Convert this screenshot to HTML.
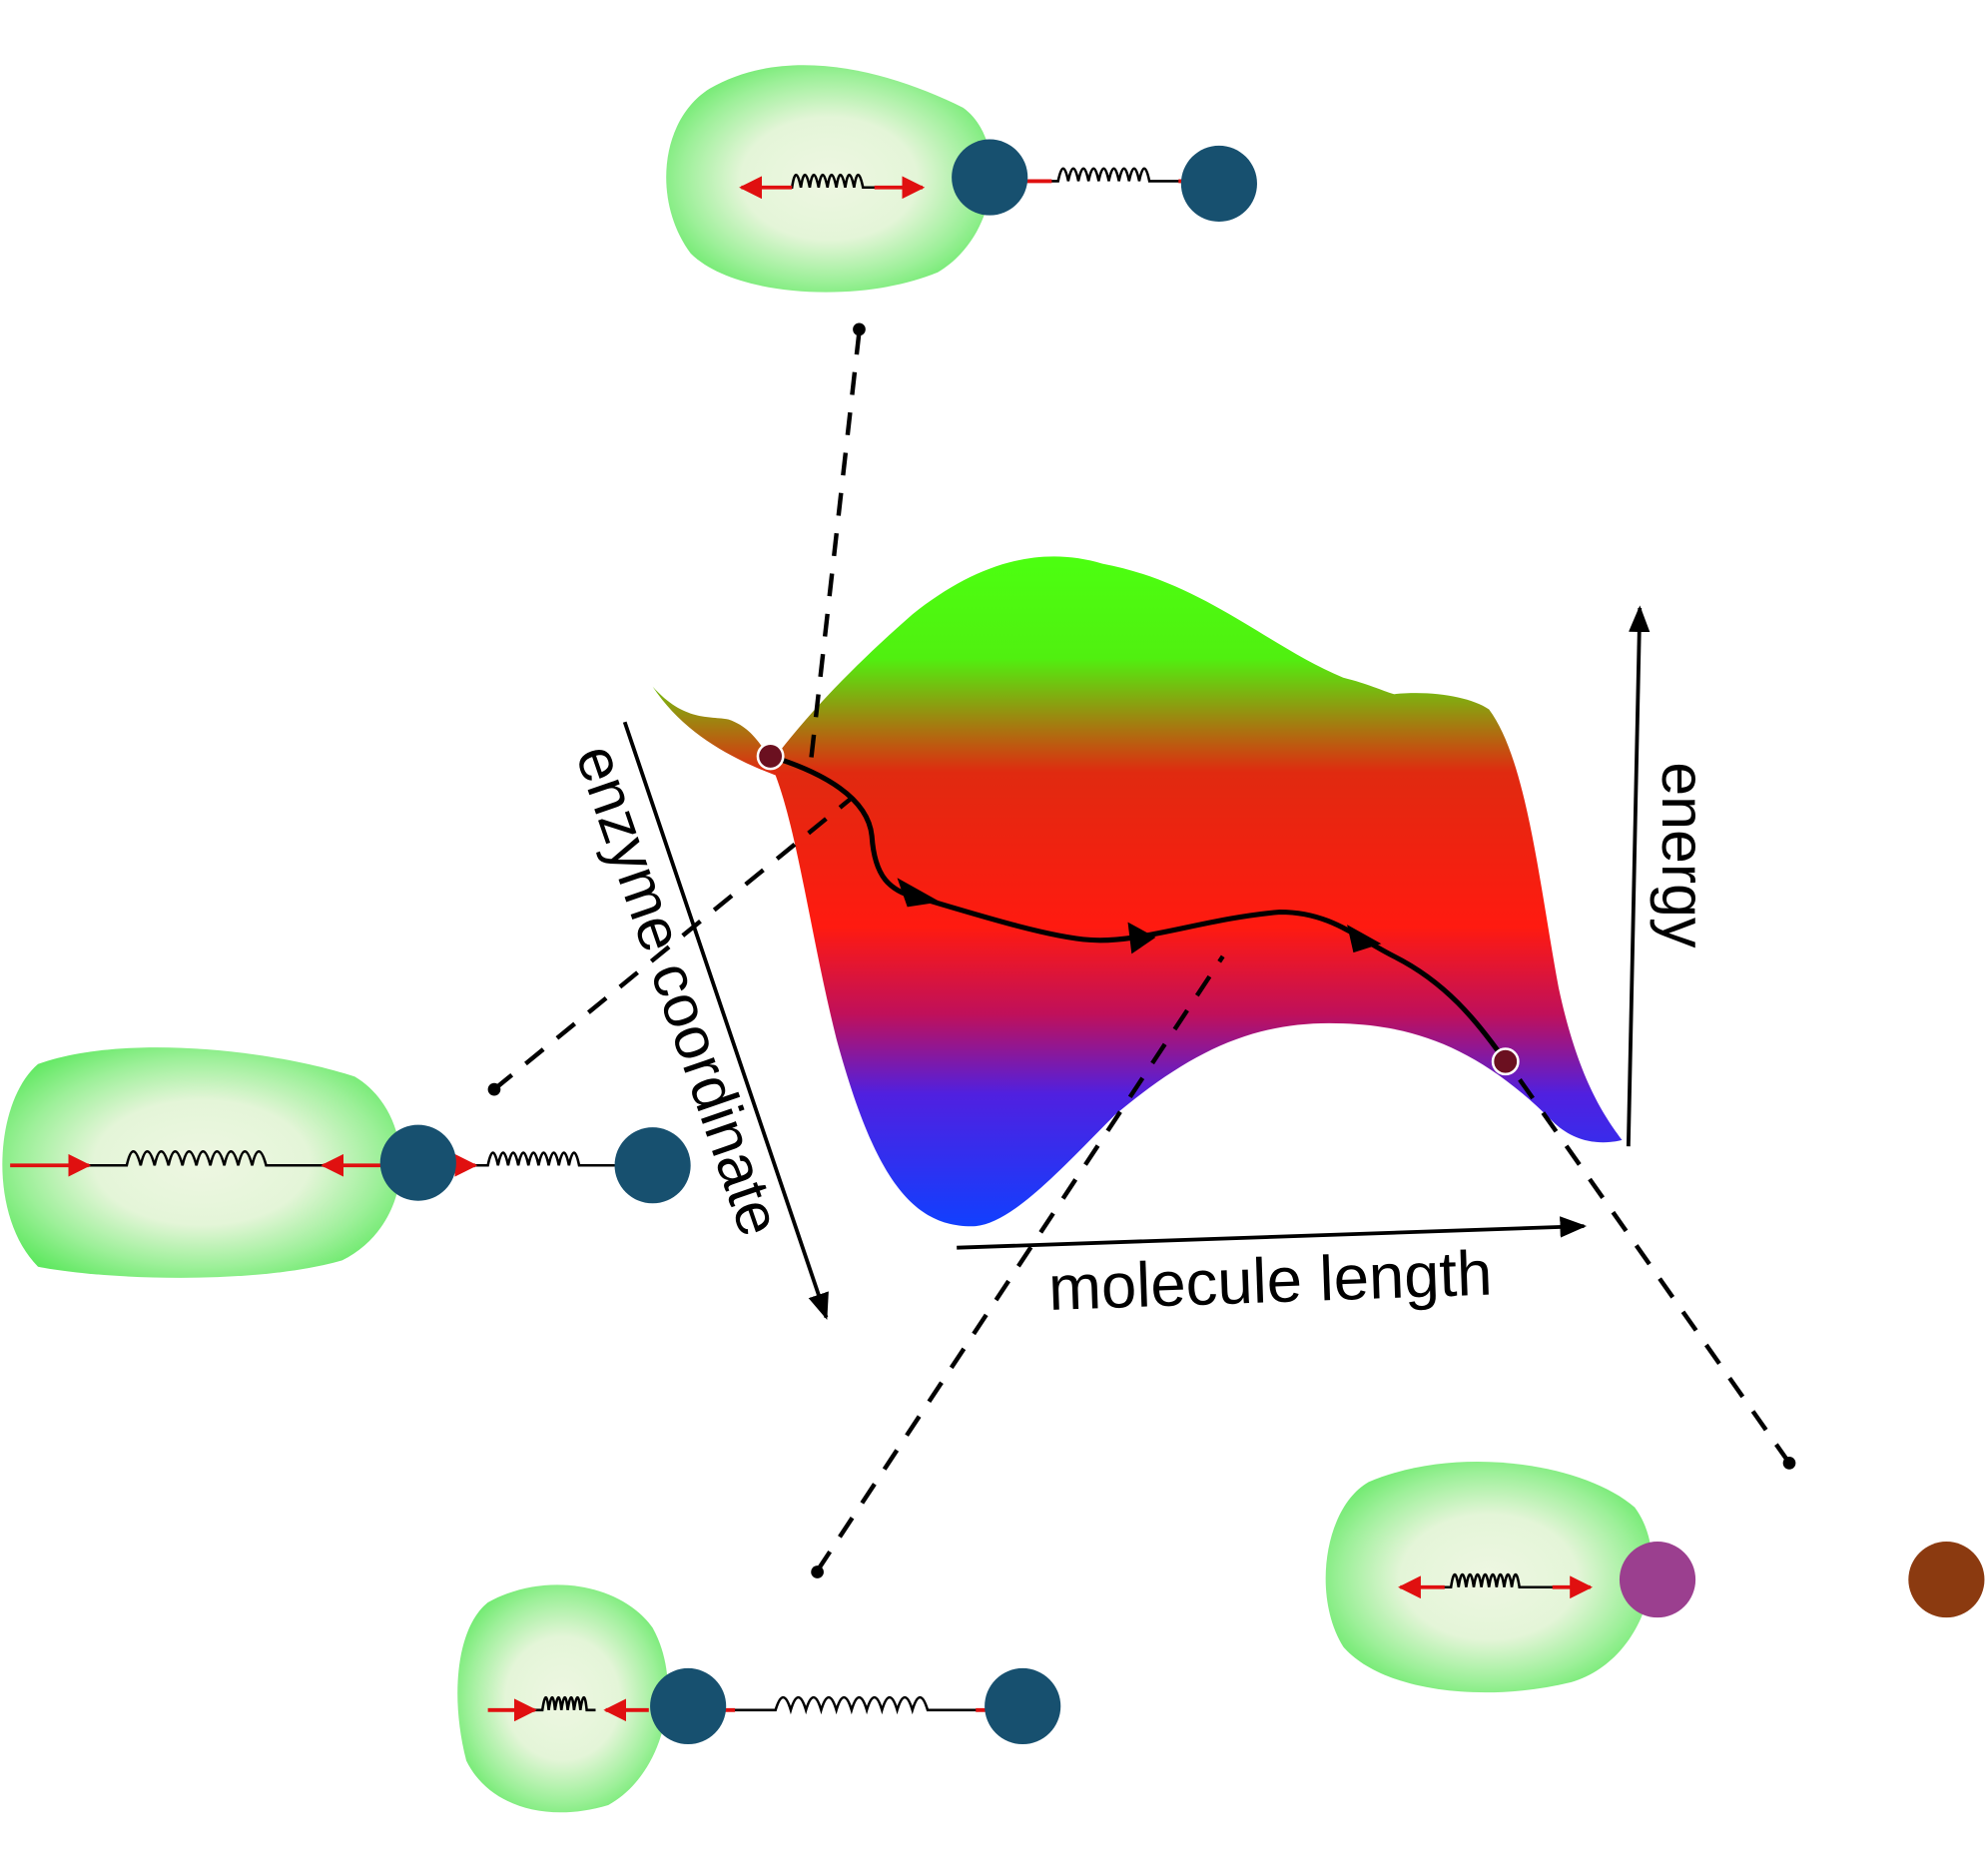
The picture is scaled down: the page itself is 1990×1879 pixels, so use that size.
<!DOCTYPE html>
<html><head><meta charset="utf-8"><style>
html,body{margin:0;padding:0;background:#fff;width:1990px;height:1879px;overflow:hidden}
svg{display:block}
text{font-family:"Liberation Sans","DejaVu Sans",sans-serif}
</style></head><body>
<svg width="1990" height="1879" viewBox="0 0 1568 1481" preserveAspectRatio="none" xmlns="http://www.w3.org/2000/svg">
<defs>
<linearGradient id="surf" gradientUnits="userSpaceOnUse" x1="0" y1="440" x2="0" y2="970">
<stop offset="0" stop-color="#4cff10"/>
<stop offset="0.15" stop-color="#50f010"/>
<stop offset="0.32" stop-color="#e02a10"/>
<stop offset="0.55" stop-color="#ff1a10"/>
<stop offset="0.68" stop-color="#c0105a"/>
<stop offset="0.8" stop-color="#5020e0"/>
<stop offset="1" stop-color="#1040ff"/>
</linearGradient>
<radialGradient id="enz" cx="0.5" cy="0.5" r="0.6">
<stop offset="0" stop-color="#eef7e2"/>
<stop offset="0.45" stop-color="#e4f5d8"/>
<stop offset="0.75" stop-color="#9ef09a"/>
<stop offset="1" stop-color="#5fe860"/>
</radialGradient>
<marker id="ar" viewBox="0 0 10 10" refX="9" refY="5" markerWidth="6" markerHeight="6" orient="auto-start-reverse"><path d="M0,0L10,5L0,10z" fill="#e01010"/></marker>
<marker id="ak" viewBox="0 0 10 10" refX="9" refY="5" markerWidth="7" markerHeight="7" orient="auto"><path d="M0,1L10,5L0,9z" fill="#000"/></marker>
</defs>

<path d="M560,70 C620,35 700,55 760,85 C795,110 790,185 740,215 C680,240 580,235 545,200 C515,160 520,95 560,70Z" fill="url(#enz)"/>
<path d="M30,840 C100,815 220,830 280,850 C330,880 330,965 270,995 C200,1015 80,1010 30,1000 C-10,960 -5,870 30,840Z" fill="url(#enz)"/>
<path d="M385,1265 C430,1240 490,1250 515,1285 C540,1330 525,1400 480,1425 C430,1440 385,1425 368,1390 C355,1340 360,1285 385,1265Z" fill="url(#enz)"/>
<path d="M1080,1170 C1150,1140 1250,1155 1290,1190 C1320,1230 1300,1310 1240,1328 C1170,1345 1090,1335 1060,1300 C1035,1260 1045,1190 1080,1170Z" fill="url(#enz)"/>

<g stroke="#000" stroke-width="2" fill="none">
<path d="M600,148 L625,148 q3,-20 7,0 q3,-20 7,0 q3,-20 7,0 q3,-20 7,0 q3,-20 7,0 q3,-20 7,0 q3,-20 7,0 q3,-20 7,0 L710,148"/>
<path d="M800,143 L835,143 q4,-20 8,0 q4,-20 8,0 q4,-20 8,0 q4,-20 8,0 q4,-20 8,0 q4,-20 8,0 q4,-20 8,0 q4,-20 8,0 q4,-20 8,0 L940,143"/>
<path d="M60,920 L100,920 q5,-22 11,0 q5,-22 11,0 q5,-22 11,0 q5,-22 11,0 q5,-22 11,0 q5,-22 11,0 q5,-22 11,0 q5,-22 11,0 q5,-22 11,0 q5,-22 11,0 L300,920"/>
<path d="M360,920 L385,920 q4,-20 8,0 q4,-20 8,0 q4,-20 8,0 q4,-20 8,0 q4,-20 8,0 q4,-20 8,0 q4,-20 8,0 q4,-20 8,0 q4,-20 8,0 L500,920"/>
<path d="M400,1350 L428,1350 q3,-20 5,0 q3,-20 5,0 q3,-20 5,0 q3,-20 5,0 q3,-20 5,0 q3,-20 5,0 q3,-20 5,0 L470,1350"/>
<path d="M560,1350 L612,1350 q6,-20 12,0 q6,-20 12,0 q6,-20 12,0 q6,-20 12,0 q6,-20 12,0 q6,-20 12,0 q6,-20 12,0 q6,-20 12,0 q6,-20 12,0 q6,-20 12,0 L790,1350"/>
<path d="M1120,1253 L1145,1253 q3,-20 6,0 q3,-20 6,0 q3,-20 6,0 q3,-20 6,0 q3,-20 6,0 q3,-20 6,0 q3,-20 6,0 q3,-20 6,0 q3,-20 6,0 L1240,1253"/>
</g>
<g stroke="#e01010" stroke-width="3">
<line x1="585" y1="148" x2="625" y2="148" marker-start="url(#ar)"/>
<line x1="690" y1="148" x2="728" y2="148" marker-end="url(#ar)"/>
<line x1="790" y1="143" x2="830" y2="143" marker-start="url(#ar)"/>
<line x1="930" y1="143" x2="955" y2="143" marker-end="url(#ar)"/>
<line x1="8" y1="920" x2="70" y2="920" marker-end="url(#ar)"/>
<line x1="255" y1="920" x2="320" y2="920" marker-start="url(#ar)"/>
<line x1="320" y1="920" x2="375" y2="920" marker-end="url(#ar)"/>
<line x1="495" y1="920" x2="530" y2="920" marker-start="url(#ar)"/>
<line x1="385" y1="1350" x2="422" y2="1350" marker-end="url(#ar)"/>
<line x1="478" y1="1350" x2="512" y2="1350" marker-start="url(#ar)"/>
<line x1="540" y1="1350" x2="580" y2="1350" marker-start="url(#ar)"/>
<line x1="770" y1="1350" x2="810" y2="1350" marker-end="url(#ar)"/>
<line x1="1105" y1="1253" x2="1140" y2="1253" marker-start="url(#ar)"/>
<line x1="1225" y1="1253" x2="1255" y2="1253" marker-end="url(#ar)"/>
</g>
<g fill="#17506f">
<circle cx="781" cy="140" r="30"/><circle cx="962" cy="145" r="30"/>
<circle cx="330" cy="918" r="30"/><circle cx="515" cy="920" r="30"/>
<circle cx="543" cy="1347" r="30"/><circle cx="807" cy="1347" r="30"/>
</g>
<circle cx="1308" cy="1247" r="30" fill="#9b3f8f"/>
<circle cx="1536" cy="1247" r="30" fill="#8b3a10"/>

<path d="M515,542 C540,570 560,565 575,568 C595,575 600,590 610,600 C640,560 680,520 720,485 C770,445 820,430 870,445 C950,460 1000,510 1060,535 C1080,540 1090,545 1100,548 C1130,545 1160,550 1175,560 C1205,600 1215,700 1230,780 C1245,850 1265,880 1280,900 C1260,905 1240,900 1225,885 C1170,830 1120,810 1060,808 C990,805 940,830 880,880 C840,920 800,965 770,968 C720,970 690,930 660,820 C640,740 630,660 612,612 C580,600 540,580 515,542Z" fill="url(#surf)"/>

<g stroke="#000" stroke-width="3.5" stroke-dasharray="18,14" fill="none">
<line x1="678" y1="262" x2="640" y2="600"/>
<line x1="390" y1="860" x2="672" y2="630"/>
<line x1="645" y1="1240" x2="965" y2="755"/>
<line x1="1412" y1="1155" x2="1192" y2="842"/>
</g>
<g fill="#000"><circle cx="678" cy="260" r="5"/><circle cx="390" cy="860" r="5"/><circle cx="645" cy="1241" r="5"/><circle cx="1412" cy="1155" r="5"/></g>

<path d="M608,597 C650,610 685,630 688,660 C690,690 700,705 730,710 C780,725 830,740 860,742 C900,745 950,725 1010,720 C1050,720 1070,740 1100,755 C1140,775 1165,805 1188,838" stroke="#000" stroke-width="4" fill="none"/>
<path d="M708,693 L742,712 L716,716Z" fill="#000"/>
<path d="M890,728 L912,740 L893,753Z" fill="#000"/>
<path d="M1063,730 L1090,745 L1068,752Z" fill="#000"/>
<circle cx="608" cy="597" r="10" fill="#6b1020" stroke="#fff" stroke-width="2"/>
<circle cx="1188" cy="838" r="10" fill="#6b1020" stroke="#fff" stroke-width="2"/>

<g stroke="#000" stroke-width="3" fill="none">
<line x1="1285" y1="905" x2="1294" y2="480" marker-end="url(#ak)"/>
<line x1="493" y1="570" x2="652" y2="1040" marker-end="url(#ak)"/>
<line x1="755" y1="985" x2="1250" y2="968" marker-end="url(#ak)"/>
</g>
<text x="1312" y="675" font-size="48" transform="rotate(90 1312 675)" text-anchor="middle">energy</text>
<text x="520" y="787" font-size="48" transform="rotate(71 520 787)" text-anchor="middle">enzyme coordinate</text>
<text x="1003" y="1028" font-size="50" text-anchor="middle" transform="rotate(-2 1003 1028)">molecule length</text>
</svg>
</body></html>
